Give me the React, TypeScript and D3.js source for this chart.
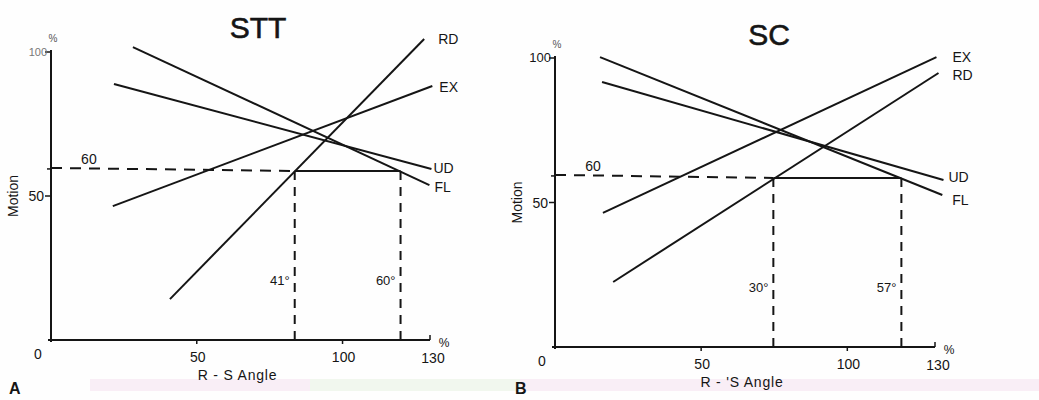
import React from 'react'
import * as d3 from 'd3'

// Axis ticks (both panels share them)
const xTicks = [0, 50, 100, 130]
const yTicks = [0, 50, 100]

// STT panel: each series is a straight line, start and end point [R-S angle %, motion %]
const sttRD = [[40.8, 14.2], [128, 104.5]]
const sttEX = [[21.2, 46.5], [130.8, 88.2]]
const sttUD = [[21.6, 88.9], [130.5, 59.4]]
const sttFL = [[28.1, 101.7], [129.8, 53.8]]
const sttThreshold = 58.7
const sttCuts = [83.6, 119.9]
const sttCutLabels = ['41°', '60°']

// SC panel
const scEX = [[16.4, 46.4], [130.5, 100.3]]
const scRD = [[19.9, 22.5], [131.2, 94.8]]
const scUD = [[16.1, 91.7], [132.9, 57.8]]
const scFL = [[15.4, 100.3], [132.5, 52.6]]
const scThreshold = 58.5
const scCuts = [74.7, 118.5]
const scCutLabels = ['30°', '57°']

const FONT = '"Liberation Sans", Arial, Helvetica, sans-serif'
const INK = '#151515'

type Series = { name: string; pts: number[][]; dx: number; dy: number }

type PanelProps = {
  title: string
  titleX: number
  titleY: number
  xRange: [number, number]
  yRange: [number, number]
  series: Series[]
  threshold: number
  cuts: number[]
  cutLabels: string[]
  xLabel: string
  hundredStyle: { size: number; fill: string }
}

function Panel(p: PanelProps) {
  const x = d3.scaleLinear().domain([0, 130]).range(p.xRange)
  const y = d3.scaleLinear().domain([0, 100]).range(p.yRange)
  const line = d3.line<number[]>().x(d => x(d[0])).y(d => y(d[1]))
  const x0 = x(0)
  const y0 = y(0)
  const yTh = y(p.threshold)

  return (
    <g fontFamily={FONT} fill={INK}>
      <text x={p.titleX} y={p.titleY} fontSize={30} textAnchor="middle" stroke={INK} strokeWidth={0.6}>{p.title}</text>

      {/* axes */}
      <line x1={x0} x2={x0} y1={y(100) - 2} y2={y0 + 2} stroke={INK} strokeWidth={2} />
      <line x1={x0 - 3} x2={x(130)} y1={y0} y2={y0} stroke={INK} strokeWidth={2} />
      <line x1={x(130)} x2={x(130)} y1={y0} y2={y0 - 5} stroke={INK} strokeWidth={1.5} />
      {yTicks.filter(t => t > 0).map(t => (
        <line key={t} x1={x0 - 6} x2={x0} y1={y(t)} y2={y(t)} stroke={INK} strokeWidth={1.5} />
      ))}
      {xTicks.filter(t => t > 0 && t < 130).map(t => (
        <line key={t} x1={x(t)} x2={x(t)} y1={y0} y2={y0 + 4} stroke={INK} strokeWidth={1.5} />
      ))}
      <line x1={x0 - 4} x2={x0} y1={yTh - 2} y2={yTh - 2} stroke={INK} strokeWidth={1.5} />

      {/* tick labels */}
      <text x={x0 - 4} y={y(100) + 4} fontSize={p.hundredStyle.size} fill={p.hundredStyle.fill} textAnchor="end">100</text>
      <text x={x0 + 2} y={y(100) - 10} fontSize={10} fill="#555" textAnchor="middle">%</text>
      <text x={x0 - 7} y={y(50) + 5} fontSize={14} textAnchor="end">50</text>
      <text x={x0 - 13} y={y0 + 19} fontSize={14} textAnchor="middle">0</text>
      {xTicks.filter(t => t > 0).map(t => (
        <text key={t} x={x(t) + (t === 130 ? 3 : 1)} y={y0 + 22 + (t === 130 ? 1 : 0)} fontSize={14} textAnchor="middle">{t}</text>
      ))}
      <text x={x(130) + 14} y={y0 + 7} fontSize={12} textAnchor="middle">%</text>
      <text x={(x0 + x(130)) / 2 - 3} y={y0 + 40} fontSize={14} letterSpacing={0.8} textAnchor="middle">{p.xLabel}</text>
      <text transform={`translate(${x0 - 33},${y(50)}) rotate(-90)`} fontSize={14} textAnchor="middle">Motion</text>

      {/* threshold guide */}
      <line x1={x0} x2={x(p.cuts[0])} y1={yTh - 3} y2={yTh} stroke={INK} strokeWidth={2} strokeDasharray="11,8" />
      <line x1={x(p.cuts[0])} x2={x(p.cuts[1])} y1={yTh} y2={yTh} stroke={INK} strokeWidth={2} />
      <text x={x(13)} y={yTh - 7} fontSize={14} textAnchor="middle">60</text>
      {p.cuts.map((c, i) => (
        <g key={c}>
          <line x1={x(c)} x2={x(c)} y1={yTh} y2={y0} stroke={INK} strokeWidth={2} strokeDasharray="9,7" />
          <text x={x(c) - 5} y={y(19)} fontSize={13} textAnchor="end">{p.cutLabels[i]}</text>
        </g>
      ))}

      {/* series */}
      {p.series.map(s => {
        const end = s.pts[s.pts.length - 1]
        return (
          <g key={s.name}>
            <path d={line(s.pts) ?? ''} fill="none" stroke={INK} strokeWidth={2} />
            <text x={x(end[0]) + s.dx} y={y(end[1]) + s.dy} fontSize={14}>{s.name}</text>
          </g>
        )
      })}
    </g>
  )
}

export default function App() {
  return (
    <svg width={1039} height={400} style={{ position: 'absolute', left: 0, top: 0, background: '#fff' }}>
      <rect x={0} y={0} width={1039} height={400} fill="#fefefe" />
      <rect x={90} y={379} width={949} height={12} fill="#f9eef6" />
      <rect x={310} y={379} width={210} height={12} fill="#f1f7ee" />

      <Panel
        title="STT"
        titleX={258}
        titleY={38}
        xRange={[51, 430]}
        yRange={[340, 52]}
        series={[
          { name: 'RD', pts: sttRD, dx: 14, dy: 5 },
          { name: 'EX', pts: sttEX, dx: 7, dy: 6 },
          { name: 'UD', pts: sttUD, dx: 2, dy: 4 },
          { name: 'FL', pts: sttFL, dx: 5, dy: 7 },
        ]}
        threshold={sttThreshold}
        cuts={sttCuts}
        cutLabels={sttCutLabels}
        xLabel="R - S  Angle"
        hundredStyle={{ size: 11, fill: '#777' }}
      />
      <Panel
        title="SC"
        titleX={769}
        titleY={45}
        xRange={[555, 935]}
        yRange={[347, 58]}
        series={[
          { name: 'EX', pts: scEX, dx: 16, dy: 5 },
          { name: 'RD', pts: scRD, dx: 14, dy: 7 },
          { name: 'UD', pts: scUD, dx: 5, dy: 2 },
          { name: 'FL', pts: scFL, dx: 10, dy: 10 },
        ]}
        threshold={scThreshold}
        cuts={scCuts}
        cutLabels={scCutLabels}
        xLabel="R - 'S  Angle"
        hundredStyle={{ size: 13, fill: INK }}
      />

      <text x={9} y={394} fontFamily={FONT} fontSize={16} fontWeight="bold" fill={INK}>A</text>
      <text x={515} y={394} fontFamily={FONT} fontSize={16} fontWeight="bold" fill={INK}>B</text>
    </svg>
  )
}
